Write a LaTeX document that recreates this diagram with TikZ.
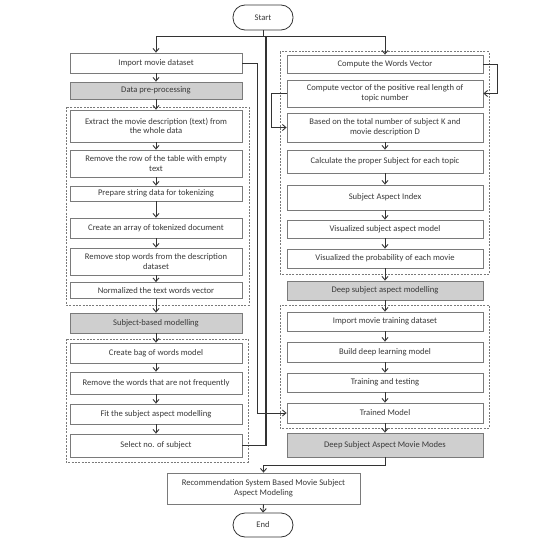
\documentclass[tikz,border=0pt]{standalone}
\usepackage{fontspec}
\setmainfont{Carlito}
\usetikzlibrary{arrows.meta}
\definecolor{bord}{HTML}{7A7A7A}
\definecolor{txt}{HTML}{3A3A3A}
\definecolor{lin}{HTML}{333333}
\definecolor{grayfill}{HTML}{CFCFCF}
\tikzset{
  box/.style={draw=bord, fill=white, line width=0.8pt, align=center, inner sep=1pt, text=txt},
  lbox/.style={box, minimum width=172pt},
  rbox/.style={box, minimum width=196pt},
  shaded/.style={fill=grayfill},
  term/.style={box, draw=lin, rounded corners=12pt, minimum width=60pt, minimum height=25pt},
  grp/.style={draw=bord, dash pattern=on 2pt off 1.3pt, line width=1pt},
  arr/.style={draw=lin, line width=0.9pt, -{Straight Barb[length=3.5pt,width=6pt]}},
  con/.style={draw=lin, line width=1.1pt}
}
\begin{document}
\begin{tikzpicture}[x=1pt,y=-1pt, font=\fontsize{8.6}{9.6}\selectfont]
\useasboundingbox[fill=white] (0,0) rectangle (543,543);
% groups
\draw[grp] (66,107) rectangle (249,305);
\draw[grp] (66,339) rectangle (248,462);
\draw[grp] (280,52) rectangle (489,274);
\draw[grp] (280,305) rectangle (489,428);
% terminals
\node[term] (start) at (263,17.5) {Start};
\node[term, minimum height=24pt] (end) at (263,525) {End};
% left column
\node[lbox, minimum height=20pt] (imp) at (156,63) {Import movie dataset};
\node[lbox, shaded, minimum height=17pt] (dpp) at (156,90.5) {Data pre-processing};
\node[lbox, minimum height=32pt] (ext) at (156,126) {Extract the movie description (text) from\\the whole data};
\node[lbox, minimum height=27pt] (rrow) at (156,163.5) {Remove the row of the table with empty\\text};
\node[lbox, minimum height=15pt] (prep) at (156,193.5) {Prepare string data for tokenizing};
\node[lbox, minimum height=20pt] (carr) at (156,228) {Create an array of tokenized document};
\node[lbox, minimum height=27pt] (rstop) at (156,261.5) {Remove stop words from the description\\dataset};
\node[lbox, minimum height=16pt] (norm) at (156,290.5) {Normalized the text words vector};
\node[lbox, shaded, minimum height=20pt] (sbm) at (156,323) {Subject-based modelling};
\node[lbox, minimum height=20pt] (bag) at (156,353) {Create bag of words model};
\node[lbox, minimum height=22pt] (rw) at (156,383) {Remove the words that are not frequently};
\node[lbox, minimum height=20pt] (fit) at (156,414) {Fit the subject aspect modelling};
\node[lbox, minimum height=23pt] (sel) at (156,445.5) {Select no. of subject};
% right column
\node[rbox, minimum height=18pt] (cwv) at (385,64) {Compute the Words Vector};
\node[rbox, minimum height=27pt] (cv) at (385,93.5) {Compute vector of the positive real length of\\topic number};
\node[rbox, minimum height=29pt] (based) at (385,127.5) {Based on the total number of subject K and\\movie description D};
\node[rbox, minimum height=23pt] (calc) at (385,161.5) {Calculate the proper Subject for each topic};
\node[rbox, minimum height=25pt] (sai) at (385,197.5) {Subject Aspect Index};
\node[rbox, minimum height=18pt] (vism) at (385,229) {Visualized subject aspect model};
\node[rbox, minimum height=19pt] (visp) at (385,258.5) {Visualized the probability of each movie};
\node[rbox, shaded, minimum height=19pt] (dsam) at (385,290.5) {Deep subject aspect modelling};
\node[rbox, minimum height=19pt] (imt) at (385,321.5) {Import movie training dataset};
\node[rbox, minimum height=20pt] (build) at (385,352) {Build deep learning model};
\node[rbox, minimum height=19pt] (train) at (385,382.5) {Training and testing};
\node[rbox, minimum height=20pt] (trained) at (385,413) {Trained Model};
\node[rbox, shaded, minimum height=24pt] (dsamm) at (385,445) {Deep Subject Aspect Movie Modes};
\node[box, minimum width=193pt, minimum height=31pt] (rec) at (263.5,488.5) {Recommendation System Based Movie Subject\\Aspect Modeling};
% coordinates
\coordinate (j1) at (263,36);
\coordinate (j2) at (266,36);
\coordinate (c1) at (257,63);
\coordinate (c2) at (497,64);
\coordinate (c3) at (271,93.5);
\coordinate (c4) at (385,465);
% connectors
\draw[arr] (start.south) -- (j1) -| (imp.north);
\draw[arr] (j1) -| (cwv.north);
\draw[con] (sel.east) -| (j2);
\draw[arr] (imp.east) -- (c1) |- (trained.west);
\draw[arr] (cwv.east) -- (c2) |- (cv.east);
\draw[arr] (cv.west) -- (c3) |- (based.west);
\draw[arr] (dsamm.south) -- (c4) -| (rec.north);
\draw[arr] (rec.south) -- (end.north);
\foreach \a/\b in {imp/dpp,dpp/ext,ext/rrow,rrow/prep,prep/carr,carr/rstop,rstop/norm,norm/sbm,sbm/bag,bag/rw,rw/fit,fit/sel,
  based/calc,calc/sai,sai/vism,vism/visp,visp/dsam,dsam/imt,imt/build,build/train,train/trained,trained/dsamm}
  \draw[arr] (\a.south) -- (\b.north);
\end{tikzpicture}
\end{document}
